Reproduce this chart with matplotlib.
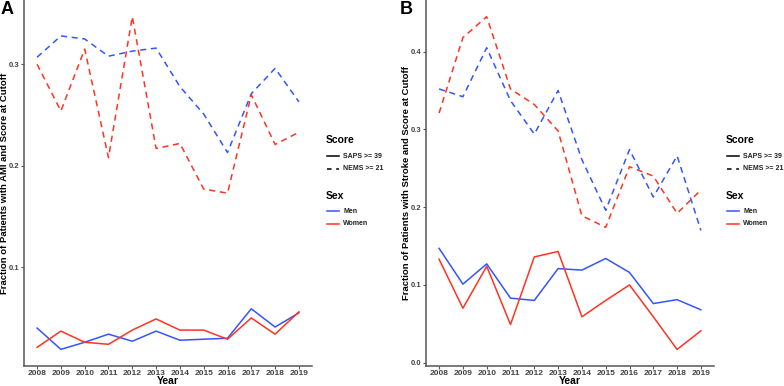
import matplotlib
matplotlib.use("Agg")
import matplotlib.pyplot as plt
from matplotlib.lines import Line2D

plt.rcParams['font.family'] = ['Liberation Sans', 'DejaVu Sans']

years = [2008, 2009, 2010, 2011, 2012, 2013, 2014, 2015, 2016, 2017, 2018, 2019]

# Panel A: AMI
ami_men_nems = [0.307, 0.328, 0.325, 0.308, 0.313, 0.316, 0.278, 0.251, 0.213, 0.271, 0.296, 0.263]
ami_women_nems = [0.300, 0.254, 0.315, 0.208, 0.347, 0.217, 0.222, 0.177, 0.173, 0.270, 0.221, 0.233]
ami_men_saps = [0.040, 0.019, 0.026, 0.034, 0.027, 0.037, 0.028, 0.029, 0.030, 0.059, 0.041, 0.055]
ami_women_saps = [0.021, 0.037, 0.026, 0.024, 0.038, 0.049, 0.038, 0.038, 0.029, 0.050, 0.034, 0.056]

# Panel B: Stroke
str_men_nems = [0.352, 0.342, 0.405, 0.337, 0.294, 0.350, 0.261, 0.196, 0.274, 0.213, 0.266, 0.170]
str_women_nems = [0.321, 0.418, 0.445, 0.352, 0.332, 0.298, 0.189, 0.174, 0.252, 0.240, 0.192, 0.222]
str_men_saps = [0.147, 0.101, 0.127, 0.083, 0.080, 0.121, 0.119, 0.134, 0.116, 0.076, 0.081, 0.068]
str_women_saps = [0.133, 0.070, 0.124, 0.049, 0.136, 0.143, 0.059, 0.080, 0.100, 0.059, 0.017, 0.041]

a_yticks = [0.1, 0.2, 0.3]
b_yticks = [0.0, 0.1, 0.2, 0.3, 0.4]

BLUE = "#3355FF"
RED = "#FF3322"
AXC = "#555555"
W, H = 784, 386

fig = plt.figure(figsize=(W / 100, H / 100), dpi=100)
fx = lambda x: x / W
fy = lambda y: 1 - y / H


def make_ax(left, right, top, bottom):
    return fig.add_axes([left / W, 1 - bottom / H, (right - left) / W, (bottom - top) / H])


def style(ax, yticks, ylim):
    for s in ["top", "right"]:
        ax.spines[s].set_visible(False)
    for s in ["left", "bottom"]:
        ax.spines[s].set_color(AXC)
        ax.spines[s].set_linewidth(1.1)
    ax.set_xlim(2008 - 0.55, 2019 + 0.55)
    ax.set_ylim(*ylim)
    ax.set_xticks(years)
    ax.set_xticklabels([str(y) for y in years])
    ax.set_yticks(yticks)
    ax.set_yticklabels([f"{v:.1f}" for v in yticks])
    ax.tick_params(axis="both", colors=AXC, labelcolor="#444444",
                   length=2.2, width=0.8, pad=1)
    ax.tick_params(axis="x", labelsize=6.0)
    ax.tick_params(axis="y", labelsize=5.5)
    for lab in ax.get_xticklabels() + ax.get_yticklabels():
        lab.set_fontweight("bold")


def draw(ax, mn, wn, ms, ws):
    ax.plot(years, mn, color=BLUE, lw=1.1, ls=(0, (4, 3)))
    ax.plot(years, wn, color=RED, lw=1.1, ls=(0, (4, 3)))
    ax.plot(years, ms, color=BLUE, lw=1.1)
    ax.plot(years, ws, color=RED, lw=1.1)


def legend(x0, y_title):
    fig.text(fx(x0), fy(y_title), "Score", fontsize=7.5, fontweight="bold", va="center")
    entries = [("SAPS >= 39", "black", "-", y_title + 16),
               ("NEMS >= 21", "black", (0, (3, 3)), y_title + 29)]
    entries2 = [("Men", BLUE, "-", y_title + 71),
                ("Women", RED, "-", y_title + 84)]
    fig.text(fx(x0), fy(y_title + 56), "Sex", fontsize=7.5, fontweight="bold", va="center")
    for lab, col, ls, y in entries + entries2:
        fig.add_artist(Line2D([fx(x0 + 1), fx(x0 + 13)], [fy(y), fy(y)], color=col,
                              ls=ls, lw=1.1, transform=fig.transFigure))
        fig.text(fx(x0 + 17), fy(y), lab, fontsize=5.0, fontweight="bold", va="center",
                 color="#222222")


axA = make_ax(24, 312, 0, 366)
draw(axA, ami_men_nems, ami_women_nems, ami_men_saps, ami_women_saps)
style(axA, a_yticks, (0.0026, 0.3634))

axB = make_ax(426, 714, 0, 366)
draw(axB, str_men_nems, str_women_nems, str_men_saps, str_women_saps)
style(axB, b_yticks, (-0.0043, 0.4664))

fig.text(fx(5), fy(183), "Fraction of Patients with AMI and Score at Cutoff",
         rotation=90, fontsize=6.8, fontweight="bold", ha="center", va="center")
fig.text(fx(406), fy(183), "Fraction of Patients with Stroke and Score at Cutoff",
         rotation=90, fontsize=6.8, fontweight="bold", ha="center", va="center")
fig.text(fx(168), fy(381), "Year", fontsize=7.5, fontweight="bold", ha="center", va="center")
fig.text(fx(570), fy(381), "Year", fontsize=7.5, fontweight="bold", ha="center", va="center")

fig.text(fx(1), fy(10), "A", fontsize=13, fontweight="bold", va="center")
fig.text(fx(400), fy(10), "B", fontsize=13, fontweight="bold", va="center")

legend(326, 140)
legend(726, 140)

fig.savefig("out.png", dpi=100)
